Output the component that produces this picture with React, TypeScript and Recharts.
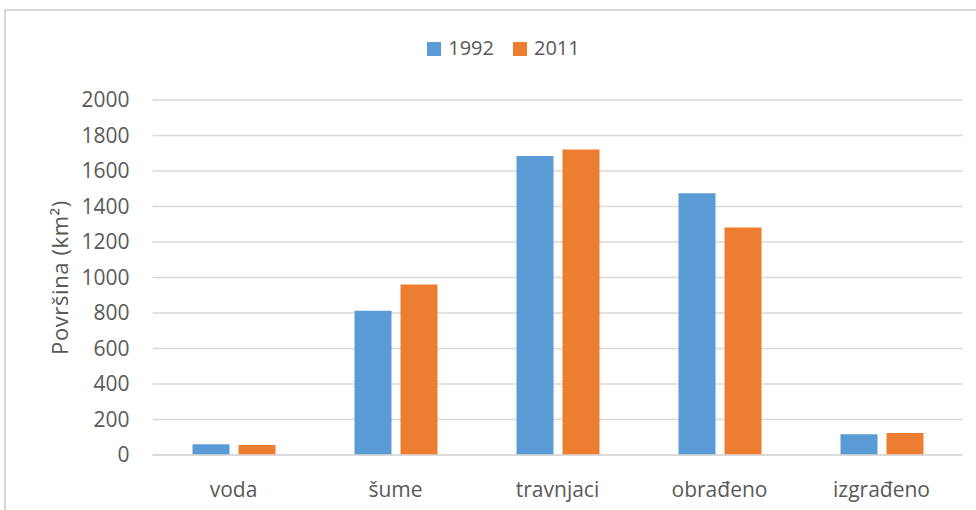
import React from "react";
import { BarChart, Bar, XAxis, YAxis, CartesianGrid } from "recharts";

const categories = ["voda", "šume", "travnjaci", "obrađeno", "izgrađeno"];
const values1992 = [60, 812, 1684, 1475, 117];
const values2011 = [57, 960, 1721, 1281, 124];
const yTicks = [0, 200, 400, 600, 800, 1000, 1200, 1400, 1600, 1800, 2000];
const seriesNames = ["1992", "2011"];
const yLabel = "Površina (km²)";

const BLUE = "#5B9BD5";
const ORANGE = "#ED7D31";
const TEXT = "#595959";
const GRID = "#D9D9D9";
const FONT = "'Open Sans', sans-serif";

const data = categories.map((c, i) => ({
  name: c,
  y1992: values1992[i],
  y2011: values2011[i],
}));

const LegendBox = () => {
  const items = [
    { name: seriesNames[0], color: BLUE },
    { name: seriesNames[1], color: ORANGE },
  ];
  return (
    <div
      style={{
        position: "absolute",
        top: 36,
        left: 0,
        display: "flex",
        justifyContent: "center",
        alignItems: "center",
        width: 1007,
        fontFamily: FONT,
        fontSize: 20,
        color: TEXT,
      }}
    >
      {items.map((it, idx) => (
        <div
          key={it.name}
          style={{ display: "flex", alignItems: "center", marginLeft: idx === 0 ? 0 : 19 }}
        >
          <span
            style={{
              display: "inline-block",
              width: 14,
              height: 14,
              background: it.color,
              marginRight: 7,
              marginTop: 2,
            }}
          />
          <span style={{ lineHeight: "24px" }}>{it.name}</span>
        </div>
      ))}
    </div>
  );
};

const YLabel = (props: any) => {
  const vb = props.viewBox || {};
  const cx = 59;
  const cy = vb.y + vb.height / 2;
  return (
    <text
      x={cx}
      y={cy}
      transform={`rotate(-90, ${cx}, ${cy})`}
      textAnchor="middle"
      dominantBaseline="central"
      fontFamily={FONT}
      fontSize={22}
      letterSpacing={0.6}
      fill={TEXT}
    >
      {yLabel}
    </text>
  );
};

export default function App() {
  return (
    <div
      style={{
        position: "absolute",
        top: 0,
        left: 0,
        width: 976,
        height: 510,
        overflow: "hidden",
        background: "#fff",
      }}
    >
      <div
        style={{
          position: "absolute",
          left: 4,
          top: 9,
          width: 1100,
          height: 600,
          border: `2px solid ${GRID}`,
          boxSizing: "border-box",
        }}
      />
      <LegendBox />
      <div style={{ position: "absolute", left: 0, top: 0 }}>
        <BarChart
          width={976}
          height={510}
          data={data}
          margin={{ top: 100, right: 13.5, bottom: 0, left: 0 }}
          barCategoryGap={40}
          barGap={9}
        >
          <CartesianGrid vertical={false} stroke={GRID} strokeWidth={1.5} />
          <XAxis
            dataKey="name"
            height={55}
            tickLine={false}
            axisLine={{ stroke: GRID, strokeWidth: 1.5 }}
            tickMargin={21}
            tick={{ fontFamily: FONT, fontSize: 21, fill: TEXT }}
            interval={0}
          />
          <YAxis
            width={152.5}
            domain={[0, 2000]}
            ticks={yTicks}
            tickLine={false}
            axisLine={false}
            tickMargin={17}
            tick={{ fontFamily: FONT, fontSize: 21, fill: TEXT }}
            label={<YLabel />}
          />
          <Bar dataKey="y1992" name={seriesNames[0]} fill={BLUE} isAnimationActive={false} />
          <Bar dataKey="y2011" name={seriesNames[1]} fill={ORANGE} isAnimationActive={false} />
        </BarChart>
      </div>
    </div>
  );
}
